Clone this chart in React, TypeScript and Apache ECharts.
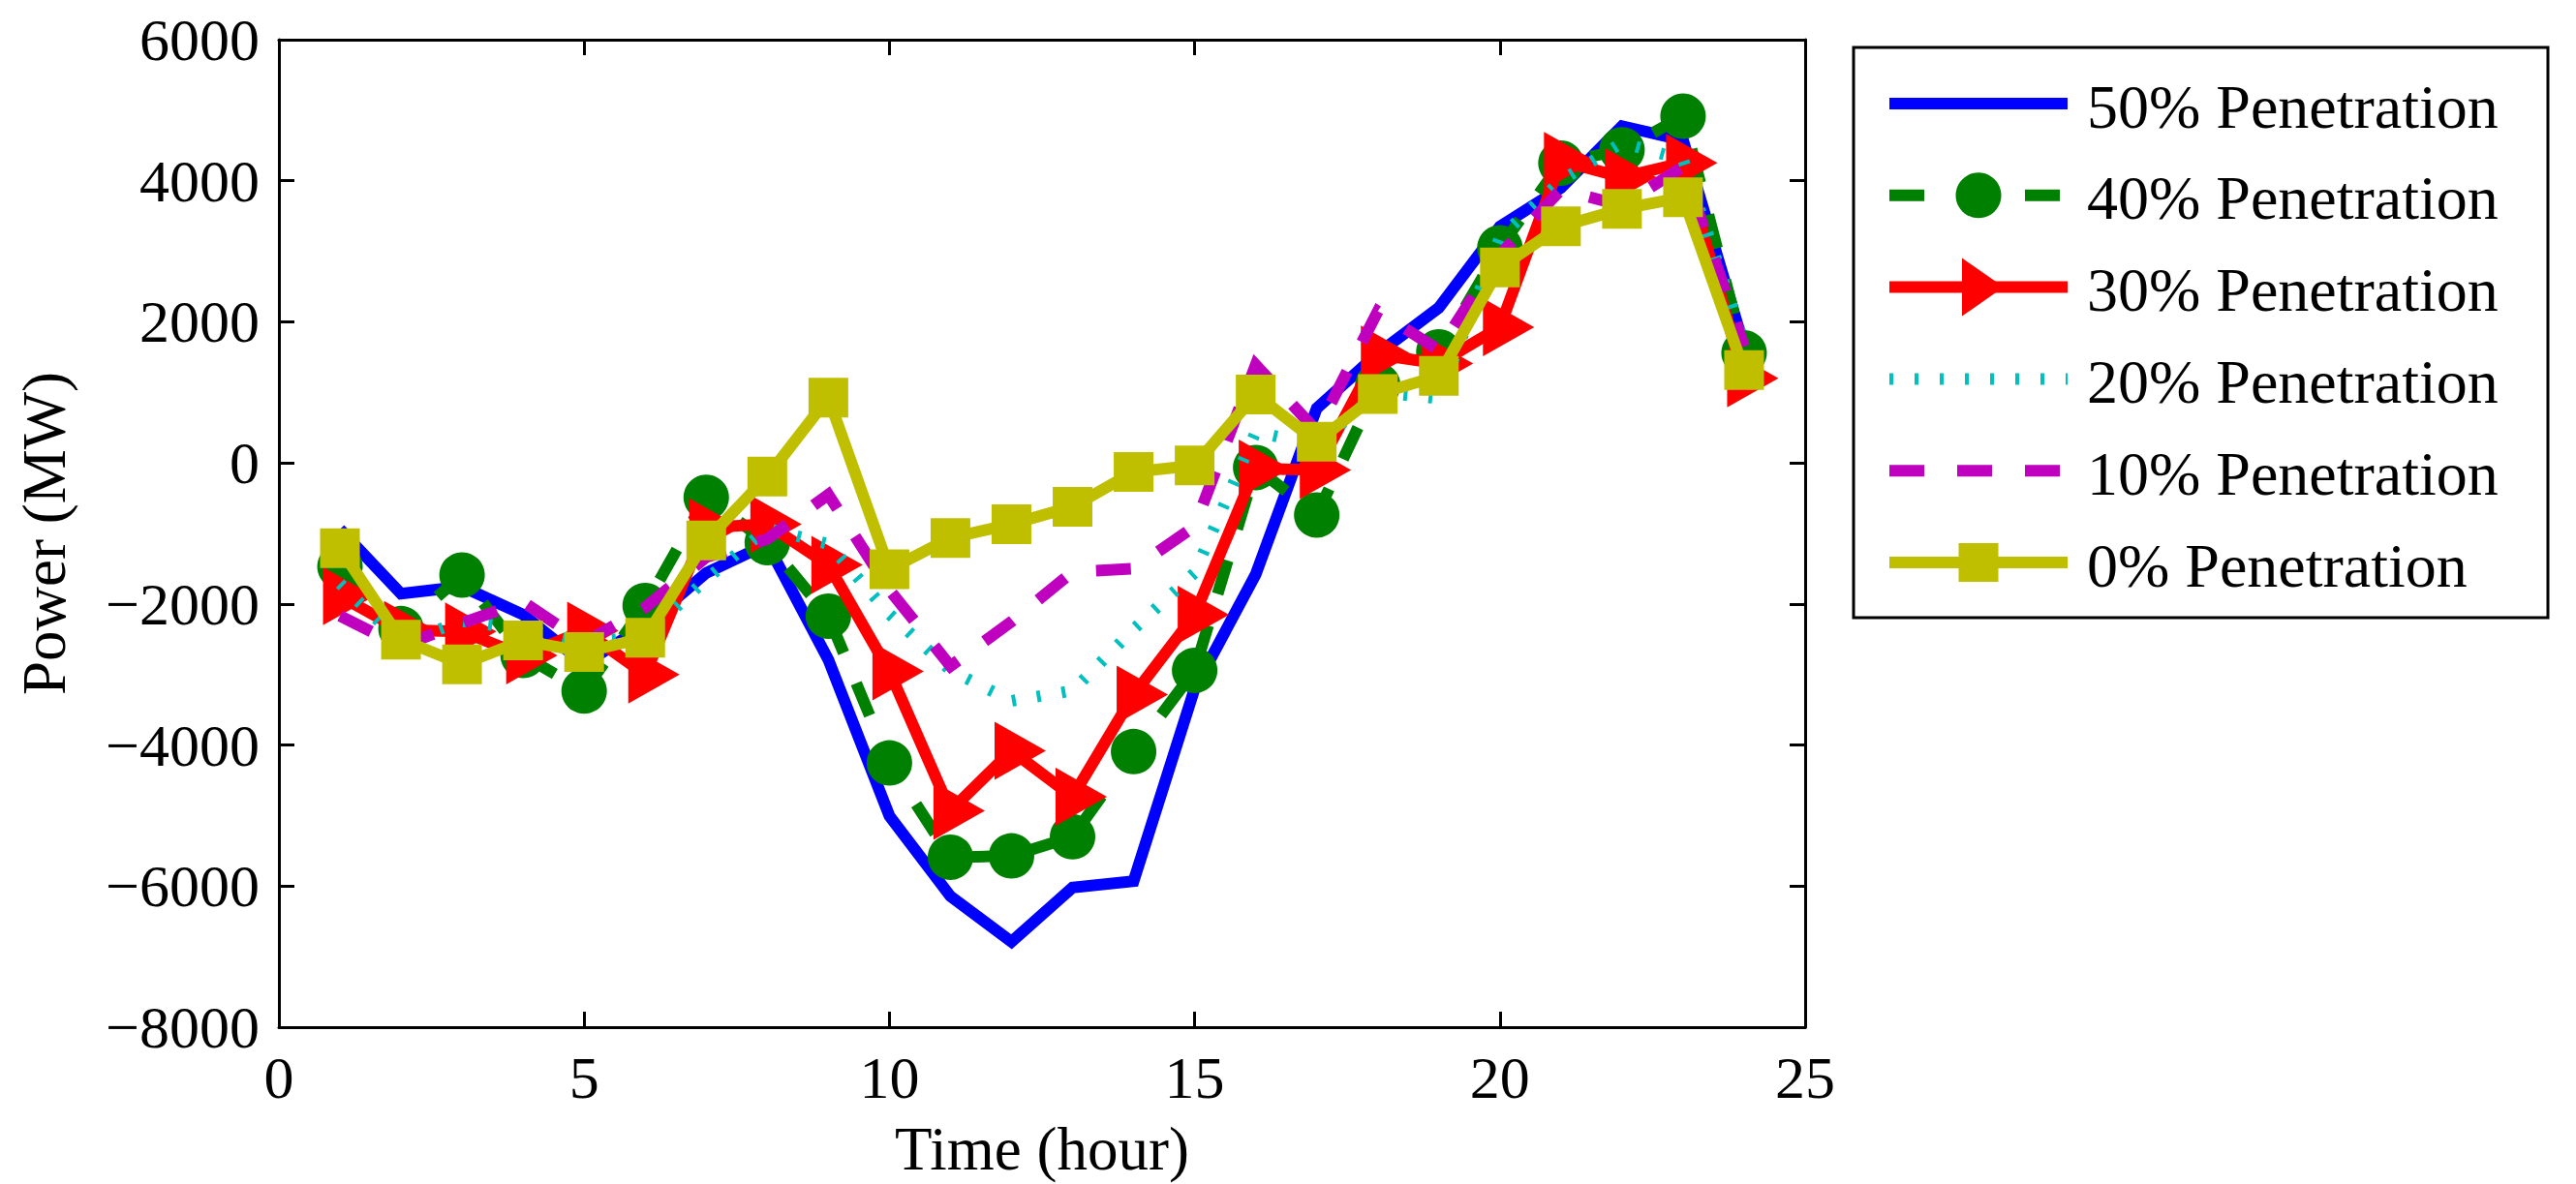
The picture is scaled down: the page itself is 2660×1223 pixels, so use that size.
import React, { useEffect, useRef } from "react";
import * as echarts from "echarts";

// ---- data ----
const hours = [1, 2, 3, 4, 5, 6, 7, 8, 9, 10, 11, 12, 13, 14, 15, 16, 17, 18, 19, 20, 21, 22, 23, 24];
const pen50 = [-940, -1855, -1755, -2150, -2850, -2300, -1560, -1150, -2790, -5005, -6144, -6790, -6020, -5930, -3200, -1580, 775, 1550, 2200, 3350, 3900, 4775, 4575, 1650];
const pen40 = [-1470, -2350, -1590, -2730, -3234, -2022, -489, -1130, -2173, -4254, -5591, -5572, -5301, -4093, -2942, -66, -739, 1100, 1575, 3050, 4250, 4440, 4915, 1560];
const pen30 = [-1890, -2370, -2390, -2730, -2380, -3000, -915, -870, -1446, -2955, -4932, -4081, -4734, -3287, -2154, -80, -100, 1535, 1410, 1925, 4280, 4050, 4255, 1200];
const pen20 = [-1710, -2550, -2245, -2350, -2550, -2450, -1650, -930, -1150, -2142, -2942, -3374, -3230, -2358, -1557, 440, 250, 1000, 915, 3200, 4000, 4540, 4300, 1700];
const pen10 = [-2170, -2600, -2270, -1970, -2550, -2050, -1336, -1080, -450, -1800, -2880, -2250, -1545, -1500, -900, 1390, 450, 2150, 1600, 2950, 3875, 3650, 4200, 1650];
const pen0 = [-1210, -2505, -2855, -2518, -2681, -2479, -1098, -193, 924, -1508, -1064, -868, -621, -128, -36, 970, 300, 975, 1235, 2770, 3355, 3600, 3765, 1315];

const seriesNames = ["50% Penetration", "40% Penetration", "30% Penetration", "20% Penetration", "10% Penetration", "0% Penetration"];
const seriesValues = [pen50, pen40, pen30, pen20, pen10, pen0];
const seriesColors = ["#0000FF", "#008000", "#FF0000", "#00BFBF", "#BF00BF", "#BFBF00"];
const seriesDash: any[] = ["solid", [36, 34], "solid", [4, 22], [36, 34], "solid"];
const seriesMarker = ["none", "circle", "triangle", "none", "none", "square"];

const xTicks = { min: 0, max: 25, interval: 5 };
const yTicks = { min: -8000, max: 6000, interval: 2000 };

const FONT = "'Liberation Serif', 'Times New Roman', Times, serif";

const TRI_PATH = "path://M0,0L52,30L0,60Z";

function markerProps(m: string) {
  if (m === "circle") return { symbol: "circle", symbolSize: 47 };
  if (m === "triangle") return { symbol: TRI_PATH, symbolSize: [53, 60], symbolOffset: [9, 0] };
  if (m === "square") return { symbol: "rect", symbolSize: 41 };
  return { symbol: "none" };
}

function buildLegend(): any[] {
  const els: any[] = [];
  els.push({
    type: "rect",
    shape: { x: 1914, y: 49, width: 717, height: 589 },
    style: { fill: "#fff", stroke: "#000", lineWidth: 3 },
    z: 10,
  });
  const x1 = 1951;
  const x2 = 2135;
  const xm = 2043;
  seriesNames.forEach((name, i) => {
    const y = 107 + i * 94.8;
    const color = seriesColors[i];
    const dash = seriesDash[i];
    els.push({
      type: "line",
      shape: { x1, y1: y, x2, y2: y },
      style: { stroke: color, lineWidth: 12, lineDash: Array.isArray(dash) ? dash : null, lineCap: "butt" },
      z: 11,
    });
    const m = seriesMarker[i];
    if (m === "circle") {
      els.push({ type: "circle", shape: { cx: xm, cy: y, r: 23.5 }, style: { fill: color }, z: 12 });
    } else if (m === "triangle") {
      els.push({
        type: "polygon",
        shape: { points: [[xm - 17, y - 30], [xm + 26, y], [xm - 17, y + 30]] },
        style: { fill: color },
        z: 12,
      });
    } else if (m === "square") {
      els.push({ type: "rect", shape: { x: xm - 20.5, y: y - 20, width: 41, height: 40 }, style: { fill: color }, z: 12 });
    }
    els.push({
      type: "text",
      x: 2155,
      y: y + 3,
      style: { text: name, font: `64px ${FONT}`, fill: "#000", align: "left", verticalAlign: "middle" },
      z: 12,
    });
  });
  return els;
}

const axisLine = { show: true, onZero: false, lineStyle: { color: "#000", width: 3 } };
const axisTick = { show: true, inside: true, length: 16, lineStyle: { color: "#000", width: 3 } };

const option: any = {
  animation: false,
  backgroundColor: "#fff",
  grid: { left: 288, top: 41, width: 1576, height: 1020, containLabel: false, outerBoundsMode: "none" },
  xAxis: [
    {
      type: "value",
      position: "bottom",
      ...xTicks,
      axisLine,
      axisTick,
      splitLine: { show: false },
      axisLabel: {
        show: true,
        margin: 21,
        color: "#000",
        fontSize: 62,
        fontFamily: FONT,
        showMinLabel: true,
        showMaxLabel: true,
        hideOverlap: false,
      },
      name: "Time (hour)",
      nameLocation: "middle",
      nameGap: 94,
      nameTextStyle: { color: "#000", fontSize: 63, fontFamily: FONT },
    },
    {
      type: "value",
      position: "top",
      ...xTicks,
      axisLine,
      axisTick,
      splitLine: { show: false },
      axisLabel: { show: false },
    },
  ],
  yAxis: [
    {
      type: "value",
      position: "left",
      ...yTicks,
      axisLine,
      axisTick,
      splitLine: { show: false },
      axisLabel: {
        show: true,
        margin: 20,
        color: "#000",
        fontSize: 62,
        fontFamily: FONT,
        showMinLabel: true,
        showMaxLabel: true,
        hideOverlap: false,
        formatter: (v: number) => String(v).replace("-", "\u2212"),
      },
      name: "Power (MW)",
      nameLocation: "middle",
      nameGap: 211,
      nameTextStyle: { color: "#000", fontSize: 63, fontFamily: FONT },
    },
    {
      type: "value",
      position: "right",
      ...yTicks,
      axisLine,
      axisTick,
      splitLine: { show: false },
      axisLabel: { show: false },
    },
  ],
  series: seriesNames.map((name, i) => ({
    type: "line",
    name,
    xAxisIndex: 0,
    yAxisIndex: 0,
    data: hours.map((h, k) => [h, seriesValues[i][k]]),
    ...markerProps(seriesMarker[i]),
    showSymbol: seriesMarker[i] !== "none",
    clip: false,
    silent: true,
    z: 2 + i,
    lineStyle: { color: seriesColors[i], width: 12, type: seriesDash[i], cap: "butt", join: "miter" },
    itemStyle: { color: seriesColors[i], borderWidth: 0 },
    emphasis: { disabled: true },
  })),
  graphic: buildLegend(),
};

export default function App() {
  const ref = useRef<HTMLDivElement>(null);
  useEffect(() => {
    if (!ref.current) return;
    const chart = echarts.init(ref.current, null, { renderer: "svg", width: 2660, height: 1223 });
    chart.setOption(option);
    return () => chart.dispose();
  }, []);
  return (
    <div
      ref={ref}
      style={{ position: "absolute", left: 0, top: 0, width: 2660, height: 1223, background: "#fff" }}
    />
  );
}
